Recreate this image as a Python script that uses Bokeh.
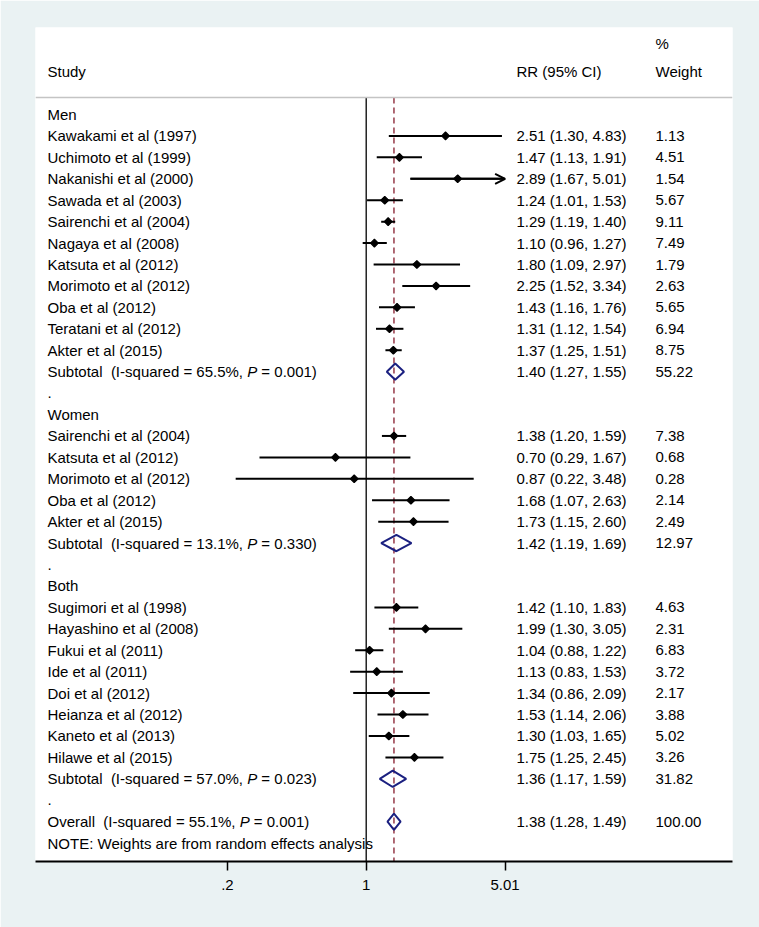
import math
from bokeh.plotting import figure
from bokeh.models import ColumnDataSource, Range1d, FixedTicker, Span, Arrow, OpenHead, Label
from bokeh.embed import file_html
from bokeh.resources import INLINE
from bokeh.core.properties import value

# ---------------- data ----------------
men_study = ["Kawakami et al (1997)", "Uchimoto et al (1999)", "Nakanishi et al (2000)",
             "Sawada et al (2003)", "Sairenchi et al (2004)", "Nagaya et al (2008)",
             "Katsuta et al (2012)", "Morimoto et al (2012)", "Oba et al (2012)",
             "Teratani et al (2012)", "Akter et al (2015)"]
men_rr = [2.51, 1.47, 2.89, 1.24, 1.29, 1.10, 1.80, 2.25, 1.43, 1.31, 1.37]
men_lo = [1.30, 1.13, 1.67, 1.01, 1.19, 0.96, 1.09, 1.52, 1.16, 1.12, 1.25]
men_hi = [4.83, 1.91, 5.01, 1.53, 1.40, 1.27, 2.97, 3.34, 1.76, 1.54, 1.51]
men_w = ["1.13", "4.51", "1.54", "5.67", "9.11", "7.49", "1.79", "2.63", "5.65", "6.94", "8.75"]
men_sub = dict(rr=1.40, lo=1.27, hi=1.55, w="55.22", i2="65.5%", p="0.001")

women_study = ["Sairenchi et al (2004)", "Katsuta et al (2012)", "Morimoto et al (2012)",
               "Oba et al (2012)", "Akter et al (2015)"]
women_rr = [1.38, 0.70, 0.87, 1.68, 1.73]
women_lo = [1.20, 0.29, 0.22, 1.07, 1.15]
women_hi = [1.59, 1.67, 3.48, 2.63, 2.60]
women_w = ["7.38", "0.68", "0.28", "2.14", "2.49"]
women_sub = dict(rr=1.42, lo=1.19, hi=1.69, w="12.97", i2="13.1%", p="0.330")

both_study = ["Sugimori et al (1998)", "Hayashino et al (2008)", "Fukui et al (2011)",
              "Ide et al (2011)", "Doi et al (2012)", "Heianza et al (2012)",
              "Kaneto et al (2013)", "Hilawe et al (2015)"]
both_rr = [1.42, 1.99, 1.04, 1.13, 1.34, 1.53, 1.30, 1.75]
both_lo = [1.10, 1.30, 0.88, 0.83, 0.86, 1.14, 1.03, 1.25]
both_hi = [1.83, 3.05, 1.22, 1.53, 2.09, 2.06, 1.65, 2.45]
both_w = ["4.63", "2.31", "6.83", "3.72", "2.17", "3.88", "5.02", "3.26"]
both_sub = dict(rr=1.36, lo=1.17, hi=1.59, w="31.82", i2="57.0%", p="0.023")

overall = dict(rr=1.38, lo=1.28, hi=1.49, w="100.00", i2="55.1%", p="0.001")

group_names = ["Men", "Women", "Both"]
tick_values = [0.2, 1, 5.01]
tick_labels = [".2", "1", "5.01"]
note_text = "NOTE: Weights are from random effects analysis"

# ---------------- layout helpers ----------------
BG = "#EAF2F3"
NAVY = "#1b2080"
MAROON = "#8e2a3a"
FONT = "Liberation Sans"
FSZ = 15

def px_to_rr(px):          # page px -> RR value on the log axis
    return math.exp((px - 365.7) / 86.2)

def py_to_row(py):         # page px -> row coordinate
    return (py - 114.0) / 21.43

# Arial advance widths (per 1 em) used for the offsets around the italic P
AW = {" ": .278, "(": .333, ")": .333, "%": .889, ",": .278, "-": .333, ".": .278, "=": .584,
      "I": .278, "S": .667, "O": .778, "P": .667, "a": .556, "b": .556, "d": .556, "e": .556,
      "l": .222, "o": .556, "q": .556, "r": .333, "s": .5, "t": .278, "u": .556, "v": .5}
for ch in "0123456789":
    AW[ch] = .556

def text_w(s):
    return sum(AW.get(c, .556) for c in s) * FSZ

X_STUDY = px_to_rr(47)
X_RR = px_to_rr(516)
X_W = px_to_rr(655)
X_MAX = tick_values[-1]
DH = 0.38

# ---------------- build rows ----------------
lab_x, lab_y, lab_t = [], [], []
st_rr, st_lo, st_hi, st_y = [], [], [], []
arrows = []
dia_xs, dia_ys = [], []
sum_rows = []

def fmt(rr, lo, hi):
    return f"{rr:.2f} ({lo:.2f}, {hi:.2f})"

groups = [
    (group_names[0], men_study, men_rr, men_lo, men_hi, men_w, men_sub),
    (group_names[1], women_study, women_rr, women_lo, women_hi, women_w, women_sub),
    (group_names[2], both_study, both_rr, both_lo, both_hi, both_w, both_sub),
]

row = 0
for name, st, rr, lo, hi, w, sub in groups:
    lab_x.append(X_STUDY); lab_y.append(row); lab_t.append(name)
    row += 1
    for s, r, l, h, ww in zip(st, rr, lo, hi, w):
        lab_x += [X_STUDY, X_RR, X_W]; lab_y += [row] * 3
        lab_t += [s, fmt(r, l, h), ww]
        st_rr.append(r); st_lo.append(l); st_y.append(row)
        if h >= X_MAX:
            st_hi.append(X_MAX)
            arrows.append((l, X_MAX, row))
        else:
            st_hi.append(h)
        row += 1
    sum_rows.append(("Subtotal", sub, row))
    row += 1
    lab_x.append(X_STUDY); lab_y.append(row); lab_t.append(".")
    row += 1
sum_rows.append(("Overall", overall, row))
row += 1
lab_x.append(X_STUDY); lab_y.append(row); lab_t.append(note_text)

pre_x, pre_y, pre_t = [], [], []
pi_x, pi_y, pi_off = [], [], []
post_x, post_y, post_t, post_off = [], [], [], []
for kind, d, r in sum_rows:
    pre = f"{kind}\u00a0 (I-squared = {d['i2']}, "
    pre_x.append(X_STUDY); pre_y.append(r); pre_t.append(pre.rstrip())
    off = text_w(pre.replace("\u00a0", " "))
    pi_x.append(X_STUDY); pi_y.append(r); pi_off.append(off)
    post_x.append(X_STUDY); post_y.append(r); post_t.append(f"= {d['p']})")
    post_off.append(off + text_w("P "))
    lab_x += [X_RR, X_W]; lab_y += [r, r]; lab_t += [fmt(d["rr"], d["lo"], d["hi"]), d["w"]]
    dia_xs.append([d["lo"], d["rr"], d["hi"], d["rr"]])
    dia_ys.append([r, r - DH, r, r + DH])

# ---------------- figure ----------------
W, H = 759, 927
y_bottom = py_to_row(861)
y_top = py_to_row(27)
p = figure(width=W, height=H, output_backend="svg", toolbar_location=None,
           x_axis_type="log", x_range=Range1d(px_to_rr(35), px_to_rr(732)),
           y_range=Range1d(y_bottom, y_top), y_axis_location=None,
           min_border_left=35, min_border_right=W - 732, min_border_top=27,
           min_border_bottom=H - 861)
p.background_fill_color = "white"
p.border_fill_color = BG
p.outline_line_color = None
p.grid.visible = False

ax = p.xaxis[0]
ax.ticker = FixedTicker(ticks=tick_values, minor_ticks=[])
ax.major_label_overrides = {v: t for v, t in zip(tick_values, tick_labels)}
ax.axis_line_width = 2
ax.axis_line_color = "black"
ax.major_tick_line_width = 1.5
ax.major_tick_line_color = "black"
ax.major_tick_out = 9
ax.major_tick_in = 0
ax.minor_tick_line_color = None
ax.major_label_standoff = 9
ax.major_label_text_font = FONT
ax.major_label_text_font_size = f"{FSZ}px"
ax.major_label_text_color = "black"

hdr = py_to_row(97)
p.add_layout(Span(location=hdr, dimension="width", line_color="#c4c4c4", line_width=1.5))

# reference lines
p.segment(x0=[1], x1=[1], y0=[hdr], y1=[y_bottom], line_color="black", line_width=1.3)
p.segment(x0=[overall["rr"]], x1=[overall["rr"]], y0=[hdr], y1=[y_bottom],
          line_color=MAROON, line_width=1.4, line_dash="6 4")

# study CIs and points
p.segment(x0=st_lo, x1=st_hi, y0=st_y, y1=st_y, line_color="black", line_width=2)
for l, h, r in arrows:
    p.add_layout(Arrow(x_start=l, y_start=r, x_end=h, y_end=r, line_width=2, line_color="black",
                       end=OpenHead(size=10, line_width=2, line_color="black")))
p.scatter(x=st_rr, y=st_y, marker="square", angle=math.pi / 4, size=5.5, color="black",
          line_width=1.2)

# pooled diamonds
p.patches(xs=dia_xs, ys=dia_ys, fill_color=None, line_color=NAVY, line_width=2)

# texts
tk = dict(text_font=value(FONT), text_font_size=value(f"{FSZ}px"), text_color="black",
          text_baseline="middle", text_align="left")
p.text(x=lab_x, y=lab_y, text=lab_t, **tk)
p.text(x=pre_x, y=pre_y, text=pre_t, **tk)
p.text(source=ColumnDataSource(dict(x=pi_x, y=pi_y, off=pi_off, t=["P"] * len(pi_x))),
       x="x", y="y", text="t", x_offset="off", text_font_style="italic", **tk)
p.text(source=ColumnDataSource(dict(x=post_x, y=post_y, off=post_off, t=post_t)),
       x="x", y="y", text="t", x_offset="off", **tk)

# header
hy = py_to_row(70.5)
p.text(x=[X_STUDY, X_RR, X_W, X_W], y=[hy, hy, hy, py_to_row(43)],
       text=["Study", "RR (95% CI)", "Weight", "%"], **tk)

p.add_layout(Label(x=-6, y=861 - 77, x_units="screen", y_units="screen", text=".",
                   text_font=FONT, text_font_size=f"{FSZ}px",
                   text_baseline="middle", text_align="center", text_color="#555555"))

open("out.html", "w").write(file_html(p, INLINE))
